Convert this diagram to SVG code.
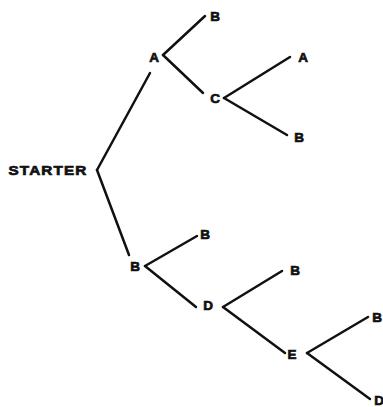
<svg xmlns="http://www.w3.org/2000/svg" width="383" height="407" viewBox="0 0 383 407">
<style>
text{font-family:"Liberation Sans",Arial,sans-serif;font-weight:bold;font-size:13.5px;fill:#111;stroke:#111;stroke-width:0.7;text-anchor:middle}
.c line{stroke:#111;stroke-width:2.5;stroke-linecap:round}
</style>
<rect width="383" height="407" fill="#fff"/>
<g class="c" id="connectors">
<line x1="97" y1="170" x2="150" y2="73"/>
<line x1="97" y1="170" x2="129" y2="255"/>
<line x1="163" y1="55" x2="205" y2="16"/>
<line x1="163" y1="55" x2="203" y2="93"/>
<line x1="224" y1="98" x2="290" y2="57"/>
<line x1="224" y1="98" x2="287" y2="135"/>
<line x1="145" y1="266" x2="197" y2="236"/>
<line x1="145" y1="266" x2="196" y2="307"/>
<line x1="223" y1="307" x2="282" y2="271"/>
<line x1="223" y1="307" x2="285" y2="353"/>
<line x1="307" y1="353" x2="368" y2="317"/>
<line x1="307" y1="353" x2="370" y2="399"/>
</g>
<g id="starter"><text x="48" y="175" font-size="14" letter-spacing="1" textLength="79" lengthAdjust="spacingAndGlyphs">STARTER</text></g>
<g id="n-a"><text x="154" y="62">A</text></g>
<g id="n-a-b"><text x="215" y="21">B</text></g>
<g id="n-c"><text x="215" y="103">C</text></g>
<g id="n-c-a"><text x="303" y="62">A</text></g>
<g id="n-c-b"><text x="299" y="142">B</text></g>
<g id="n-b"><text x="135" y="271">B</text></g>
<g id="n-b-b"><text x="205" y="239">B</text></g>
<g id="n-d"><text x="208" y="310">D</text></g>
<g id="n-d-b"><text x="295" y="275">B</text></g>
<g id="n-e"><text x="292" y="359">E</text></g>
<g id="n-e-b"><text x="377" y="322">B</text></g>
<g id="n-e-d"><text x="379" y="405">D</text></g>
</svg>
